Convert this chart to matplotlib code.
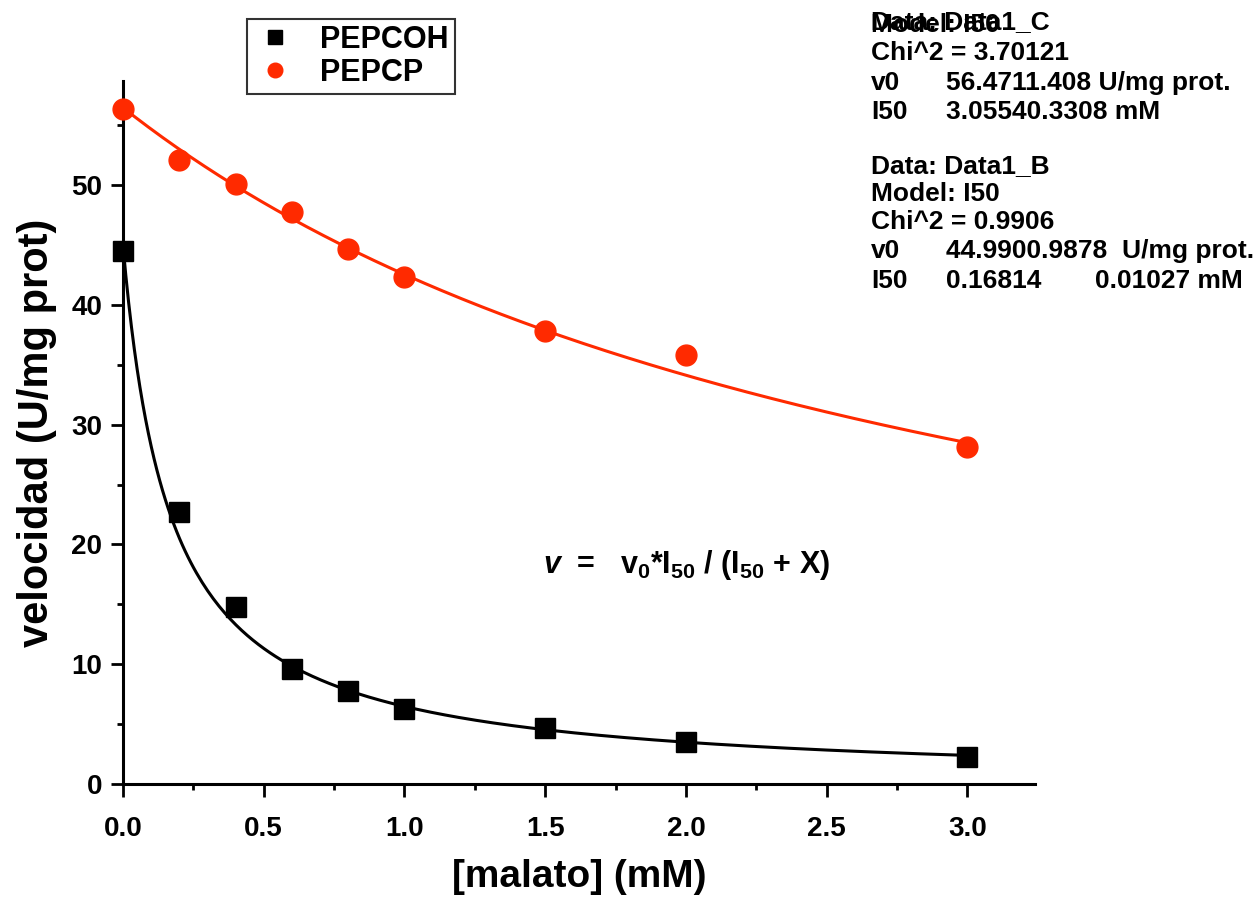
import numpy as np
import matplotlib
matplotlib.use("Agg")
import matplotlib.pyplot as plt
from matplotlib.ticker import MultipleLocator

plt.rcParams['font.family'] = ['Liberation Sans', 'DejaVu Sans']
plt.rcParams['font.weight'] = 'bold'
plt.rcParams['mathtext.fontset'] = 'custom'
plt.rcParams['mathtext.rm'] = 'Liberation Sans:bold'
plt.rcParams['mathtext.it'] = 'Liberation Sans:bold:italic'
plt.rcParams['mathtext.bf'] = 'Liberation Sans:bold'

# Data
malato = [0.0, 0.2, 0.4, 0.6, 0.8, 1.0, 1.5, 2.0, 3.0]
pepcoh = [44.5, 22.7, 14.8, 9.6, 7.8, 6.3, 4.7, 3.5, 2.25]
pepcp = [56.4, 52.1, 50.1, 47.8, 44.7, 42.3, 37.8, 35.8, 28.1]

# Fit parameters (from the chart's fit report)
v0_p, i50_p = 56.471, 3.0554
v0_h, i50_h = 44.990, 0.16814

red = '#ff2a00'

fig = plt.figure(figsize=(12.59, 8.97), dpi=100)
ax = fig.add_axes([123/1259, 1-784/897, (1035-123)/1259, (784-81)/897])

xf = np.linspace(0, 3.0, 300)
ax.plot(xf, v0_p*i50_p/(i50_p+xf), color=red, lw=2.2, zorder=2)
ax.plot(xf, v0_h*i50_h/(i50_h+xf), color='black', lw=2.2, zorder=2)
ax.plot(malato, pepcoh, 's', color='black', ms=14, ls='none', label='PEPCOH', zorder=3, clip_on=False)
ax.plot(malato, pepcp, 'o', color=red, ms=15, ls='none', label='PEPCP', zorder=3, clip_on=False)

ax.set_xlim(0, 3.24)
ax.set_ylim(0, 58.7)
ax.xaxis.set_major_locator(MultipleLocator(0.5))
ax.xaxis.set_minor_locator(MultipleLocator(0.25))
ax.yaxis.set_major_locator(MultipleLocator(10))
ax.yaxis.set_minor_locator(MultipleLocator(5))
ax.xaxis.set_major_formatter(matplotlib.ticker.FormatStrFormatter('%.1f'))
for s in ['top', 'right']:
    ax.spines[s].set_visible(False)
for s in ['left', 'bottom']:
    ax.spines[s].set_linewidth(2.2)
ax.tick_params(which='major', direction='out', length=9, width=2, labelsize=20)
ax.tick_params(axis='x', which='major', pad=14)
ax.tick_params(axis='y', which='major', pad=6)
ax.tick_params(which='minor', direction='out', length=4.5, width=2)
for lab in ax.get_xticklabels() + ax.get_yticklabels():
    lab.set_fontweight('bold')

ax.set_xlabel('[malato] (mM)', fontsize=28, fontweight='bold', labelpad=12)
ax.set_ylabel('velocidad (U/mg prot)', fontsize=30, fontweight='bold', labelpad=10)

leg = ax.legend(loc='upper left', bbox_to_anchor=(247/1259, 1-19/897), bbox_transform=fig.transFigure,
                borderaxespad=0, fontsize=22, frameon=True, fancybox=False, edgecolor='black',
                handletextpad=0.8, borderpad=0.2, labelspacing=0.1, handlelength=1.4, markerscale=0.7)
leg.get_frame().set_linewidth(1.5)
for t in leg.get_texts():
    t.set_fontweight('bold')

# Fit report text
fs = 19
def ftext(x, y, s):
    fig.text(x/1259, 1-y/897, s, fontsize=fs, fontweight='bold', va='center', ha='left')

ftext(871, 22, 'Data: Data1_C')
ftext(871, 25, 'Model: I50')
ftext(871, 53, 'Chi^2 = 3.70121')
ftext(871, 83, 'v0')
ftext(946, 83, '56.4711.408 U/mg prot.')
ftext(871, 112, 'I50')
ftext(946, 112, '3.05540.3308 mM')
ftext(871, 166, 'Data: Data1_B')
ftext(871, 194, 'Model: I50')
ftext(871, 222, 'Chi^2 = 0.9906')
ftext(871, 251, 'v0')
ftext(946, 251, '44.9900.9878  U/mg prot.')
ftext(871, 281, 'I50')
ftext(946, 281, '0.16814')
ftext(1095, 281, '0.01027 mM')

fig.text(543/1259, 1-565/897, r'$v$  =   v$_0$*I$_{50}$ / (I$_{50}$ + X)', fontsize=22,
         fontweight='bold', va='center', ha='left')

fig.savefig('out.png', dpi=100)
